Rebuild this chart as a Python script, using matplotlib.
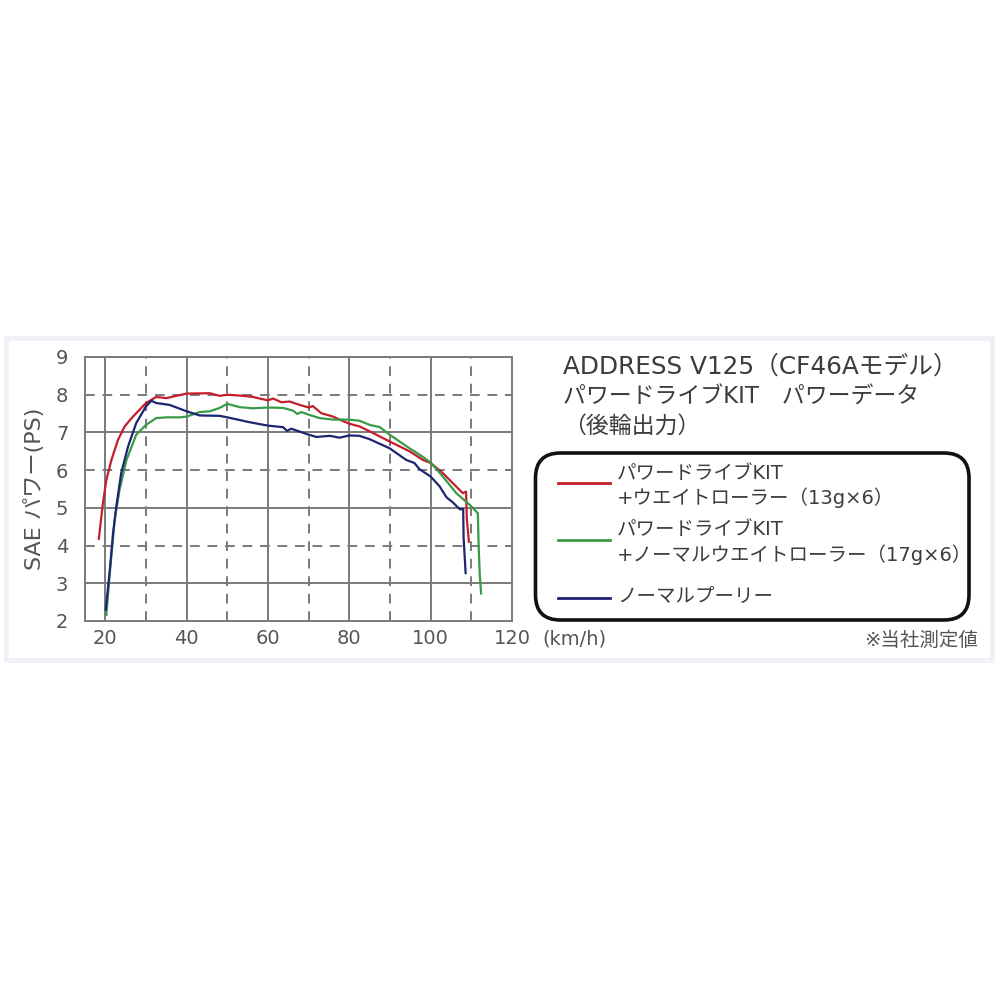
import matplotlib
matplotlib.use("Agg")
import matplotlib.pyplot as plt
from matplotlib.patches import FancyBboxPatch, Rectangle
from matplotlib.lines import Line2D

plt.rcParams['font.family'] = ['DejaVu Sans', 'Noto Sans CJK JP']

# ---- data (speed km/h, power PS) ----
red_x = [18.4, 19.4, 20.25, 21.5, 23.1, 24.75, 26.8, 30.0, 32.5, 35.0, 37.5, 40.0, 45.7, 48.1, 50.0,
         53.9, 56.3, 60.0, 61.2, 63.3, 65.3, 67.8, 70.0, 71.0, 73.1, 76.0, 77.6, 80.0, 82.5, 85.0,
         89.9, 94.8, 98.1, 100.0, 103.0, 105.5, 107.9, 108.7, 108.9, 109.4]
red_y = [4.18, 5.12, 5.74, 6.27, 6.80, 7.16, 7.42, 7.78, 7.94, 7.91, 7.97, 8.03, 8.04, 7.97, 8.00,
         7.97, 7.94, 7.85, 7.90, 7.80, 7.82, 7.73, 7.66, 7.70, 7.51, 7.42, 7.34, 7.23, 7.16, 7.03,
         6.76, 6.50, 6.27, 6.19, 5.92, 5.65, 5.39, 5.43, 4.70, 4.10]

green_x = [20.25, 21.1, 22.3, 23.5, 25.2, 27.6, 30.0, 32.5, 35.0, 38.3, 40.0, 43.2, 45.7, 48.1, 50.0,
           53.0, 56.3, 60.0, 63.7, 66.1, 67.2, 68.2, 70.0, 72.7, 76.0, 80.0, 82.5, 85.0, 87.5, 89.9,
           94.8, 98.1, 100.0, 103.0, 106.3, 109.6, 111.6, 111.8, 112.05, 112.4]
green_y = [2.16, 3.27, 4.68, 5.48, 6.27, 6.94, 7.20, 7.38, 7.40, 7.40, 7.42, 7.54, 7.56, 7.65, 7.76,
           7.67, 7.64, 7.66, 7.65, 7.58, 7.49, 7.54, 7.47, 7.38, 7.34, 7.34, 7.31, 7.20, 7.14, 6.94,
           6.58, 6.35, 6.20, 5.83, 5.39, 5.08, 4.86, 4.00, 3.27, 2.73]

blue_x = [20.1, 21.1, 21.9, 22.7, 23.9, 25.6, 27.6, 30.0, 31.3, 32.5, 35.8, 40.0, 43.2, 48.1, 50.0,
          55.5, 60.0, 63.7, 64.7, 65.7, 70.0, 71.9, 75.2, 77.6, 80.0, 82.5, 85.0, 89.9, 94.0, 96.0,
          97.2, 100.0, 102.2, 103.9, 105.5, 107.2, 108.0, 108.1, 108.6]
blue_y = [2.30, 3.35, 4.33, 5.04, 5.92, 6.63, 7.25, 7.69, 7.84, 7.78, 7.73, 7.56, 7.45, 7.44, 7.40,
          7.27, 7.18, 7.14, 7.04, 7.10, 6.94, 6.88, 6.91, 6.86, 6.92, 6.91, 6.82, 6.58, 6.27, 6.19,
          6.03, 5.83, 5.57, 5.28, 5.14, 4.96, 4.97, 4.20, 3.27]

x_ticks = [20, 40, 60, 80, 100, 120]
x_ticklabels = ["20", "40", "60", "80", "100", "120"]
y_ticks = [2, 3, 4, 5, 6, 7, 8, 9]

series_names = ["パワードライブKIT\n+ウエイトローラー（13g×6）",
                "パワードライブKIT\n+ノーマルウエイトローラー（17g×6）",
                "ノーマルプーリー"]
title_lines = ["ADDRESS V125（CF46Aモデル）",
               "パワードライブKIT　パワーデータ",
               "（後輪出力）"]
ylabel = "SAE パワー(PS)"
xunit = "(km/h)"
note = "※当社測定値"

RED = "#c41e2a"
GREEN = "#3a9a48"
BLUE = "#1c2570"
TXT = "#3c3c3c"
LBL = "#555555"
GRID = "#7a7a7a"

fig = plt.figure(figsize=(10, 10), dpi=100)
fig.patch.set_facecolor("white")

# outer light panel frame
fig.patches.append(Rectangle((0.006, 0.340), 0.986, 0.322, transform=fig.transFigure,
                             fill=False, edgecolor="#f0f0f6", linewidth=3.5, zorder=0))

ax = fig.add_axes([0.085, 0.379, 0.427, 0.264])
ax.set_xlim(15, 120)
ax.set_ylim(2, 9)

# grid: solid at 20,40,..; dashed at 30,50,..; y solid at odd, dashed at even
for v in [20, 40, 60, 80, 100]:
    ax.axvline(v, color=GRID, lw=1.4, zorder=1)
for v in [30, 50, 70, 90, 110]:
    ax.axvline(v, color=GRID, lw=1.4, ls=(0, (5, 4)), zorder=1)
for v in [3, 5, 7]:
    ax.axhline(v, color=GRID, lw=1.4, zorder=1)
for v in [4, 6, 8]:
    ax.axhline(v, color=GRID, lw=1.4, ls=(0, (5, 4)), zorder=1)
for s in ax.spines.values():
    s.set_color(GRID)
    s.set_linewidth(1.4)

ax.plot(red_x, red_y, color=RED, lw=1.6, zorder=3)
ax.plot(green_x, green_y, color=GREEN, lw=1.6, zorder=3)
ax.plot(blue_x, blue_y, color=BLUE, lw=1.6, zorder=4)

ax.set_xticks(x_ticks)
ax.set_xticklabels(x_ticklabels)
ax.set_yticks(y_ticks)
ax.tick_params(length=0, labelsize=14, labelcolor=LBL)
ax.tick_params(axis='x', pad=6)
ax.tick_params(axis='y', pad=12)
ax.text(1.07, -0.069, xunit, transform=ax.transAxes, fontsize=14, color=LBL,
        ha="left", va="center")
ax.set_ylabel(ylabel, fontsize=16, color=LBL, labelpad=8)

# title block
ty = [0.633, 0.603, 0.574]
tsz = [17.8, 16.5, 16.5]
for t, yy, fs in zip(title_lines, ty, tsz):
    fig.text(0.563, yy, t, fontsize=fs, color=TXT, ha="left", va="center")

# legend box
fig.patches.append(FancyBboxPatch((0.5355, 0.380), 0.4335, 0.167, transform=fig.transFigure,
                                  boxstyle="round,pad=0,rounding_size=0.025",
                                  fill=False, edgecolor="#111111", linewidth=2.6, zorder=2))
leg_y = [0.517, 0.460, 0.402]
text_y = [(0.526, 0.502), (0.470, 0.445), (0.404,)]
for c, ly, nm, tys in zip([RED, GREEN, BLUE], leg_y, series_names, text_y):
    fig.lines.append(Line2D([0.558, 0.610], [ly, ly], transform=fig.transFigure, color=c, lw=2))
    for line, yy in zip(nm.split("\n"), tys):
        fig.text(0.617, yy, line, fontsize=14, color=TXT, ha="left", va="center")

fig.text(0.978, 0.360, note, fontsize=14, color=LBL, ha="right", va="center")

fig.savefig("out.png", dpi=100, facecolor="white")
